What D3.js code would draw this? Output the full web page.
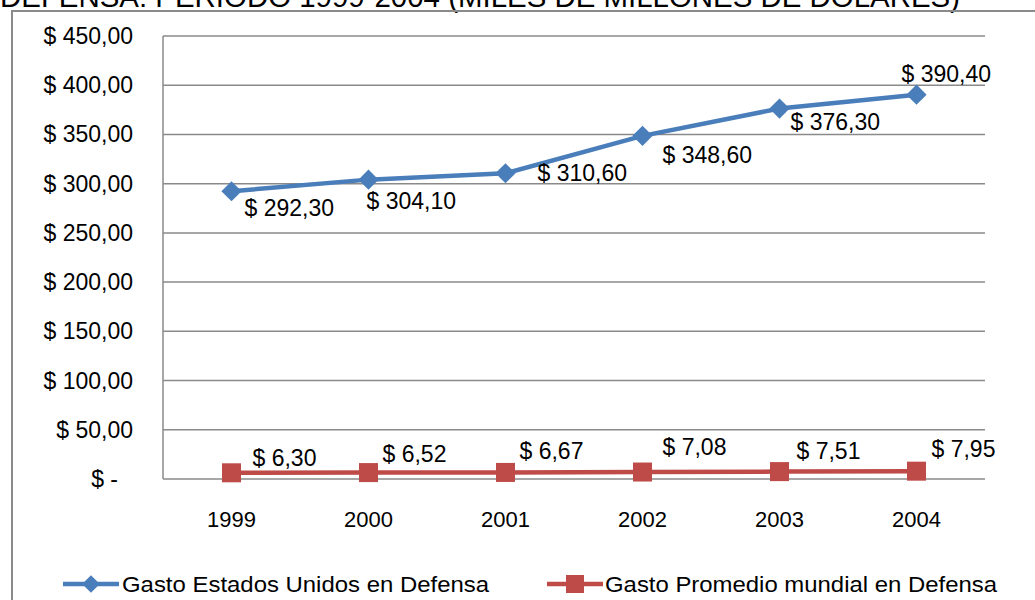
<!DOCTYPE html>
<html>
<head>
<meta charset="utf-8">
<script src="https://cdn.jsdelivr.net/npm/d3@7"></script>
<style>
  body { margin: 0; background: #fff; }
  svg { display: block; font-family: "Liberation Sans", Arial, sans-serif; }
</style>
</head>
<body>
<div id="chart"></div>
<script>
// data
let years = ['1999', '2000', '2001', '2002', '2003', '2004'];
let usaSpend = [292.30, 304.10, 310.60, 348.60, 376.30, 390.40];
let worldSpend = [6.30, 6.52, 6.67, 7.08, 7.51, 7.95];
let yTicks = [0, 50, 100, 150, 200, 250, 300, 350, 400, 450];
let seriesNames = ['Gasto Estados Unidos en Defensa', 'Gasto Promedio mundial en Defensa'];

// label nudges (px) to sit where excel put them
let usaLabelShift = [[13, 17], [-2, 21], [32, 0], [20, 19], [11, 13], [-15, -21]];
let worldLabelShift = [[21, -15], [14, -19], [14, -21], [20, -25], [17, -21], [15, -22]];

let width = 1035, height = 600;
let blue = '#4a7ebb', red = '#be4b48', grid = '#8a8a8a';

let svg = d3.select('#chart').append('svg')
  .attr('width', width).attr('height', height);

// title, mostly cut off by the crop
svg.append('text')
  .attr('x', 0).attr('y', 7)
  .attr('font-size', 29)
  .attr('textLength', 960).attr('lengthAdjust', 'spacingAndGlyphs')
  .text('DEFENSA: PERIODO 1999-2004 (MILES DE MILLONES DE DOLARES)');

// outer chart border
svg.append('path')
  .attr('d', 'M12,' + (height + 5) + 'V11H' + (width + 5))
  .attr('fill', 'none').attr('stroke', grid).attr('stroke-width', 2);

let x = d3.scaleBand().domain(years).range([163, 985]);
let y = d3.scaleLinear().domain([0, 450]).range([479, 36]);
let cx = d => x(d) + x.bandwidth() / 2;

let fmt = v => {
  if (v === 0) return '$ -';
  return '$ ' + v.toFixed(2).replace('.', ',');
};

// grid lines
svg.append('g').selectAll('line').data(yTicks).join('line')
  .attr('x1', 163).attr('x2', 985)
  .attr('y1', d => y(d)).attr('y2', d => y(d))
  .attr('stroke', grid).attr('stroke-width', 1.5);

svg.append('line')
  .attr('x1', 163).attr('x2', 163).attr('y1', y(450)).attr('y2', y(0))
  .attr('stroke', grid).attr('stroke-width', 1.5);

// y labels
svg.append('g').selectAll('text').data(yTicks).join('text')
  .attr('x', d => d === 0 ? 118 : 133)
  .attr('y', d => y(d) + 8)
  .attr('text-anchor', 'end')
  .attr('font-size', 23)
  .text(fmt);

// x labels
svg.append('g').selectAll('text').data(years).join('text')
  .attr('x', d => cx(d))
  .attr('y', 527)
  .attr('text-anchor', 'middle')
  .attr('font-size', 22)
  .text(d => d);

let line = vals => d3.line()
  .x((d, i) => cx(years[i]))
  .y(d => y(d))(vals);

// world series
svg.append('path').attr('d', line(worldSpend))
  .attr('fill', 'none').attr('stroke', red).attr('stroke-width', 4.5);
svg.append('g').selectAll('rect').data(worldSpend).join('rect')
  .attr('x', (d, i) => cx(years[i]) - 9.5)
  .attr('y', d => y(d) - 9.5)
  .attr('width', 19).attr('height', 19)
  .attr('fill', red);

// usa series
svg.append('path').attr('d', line(usaSpend))
  .attr('fill', 'none').attr('stroke', blue).attr('stroke-width', 4.5);
svg.append('g').selectAll('path').data(usaSpend).join('path')
  .attr('d', d3.symbol(d3.symbolDiamond2, 260))
  .attr('transform', (d, i) => `translate(${cx(years[i])},${y(d)})`)
  .attr('fill', blue);

// data labels
svg.append('g').selectAll('text').data(usaSpend).join('text')
  .attr('x', (d, i) => cx(years[i]) + usaLabelShift[i][0])
  .attr('y', (d, i) => y(d) + usaLabelShift[i][1] + 8)
  .attr('font-size', 23)
  .text(fmt);

svg.append('g').selectAll('text').data(worldSpend).join('text')
  .attr('x', (d, i) => cx(years[i]) + worldLabelShift[i][0])
  .attr('y', (d, i) => y(d) + worldLabelShift[i][1] + 8)
  .attr('font-size', 23)
  .text(fmt);

// legend
let legend = svg.append('g');
legend.append('line').attr('x1', 63).attr('x2', 119).attr('y1', 584).attr('y2', 584)
  .attr('stroke', blue).attr('stroke-width', 4.5);
legend.append('path')
  .attr('d', d3.symbol(d3.symbolDiamond2, 200))
  .attr('transform', 'translate(91,584)')
  .attr('fill', blue);
legend.append('text').attr('x', 122).attr('y', 592).attr('font-size', 22)
  .attr('textLength', 367).attr('lengthAdjust', 'spacingAndGlyphs')
  .text(seriesNames[0]);

legend.append('line').attr('x1', 547).attr('x2', 603).attr('y1', 584).attr('y2', 584)
  .attr('stroke', red).attr('stroke-width', 4.5);
legend.append('rect').attr('x', 566).attr('y', 575).attr('width', 18).attr('height', 18)
  .attr('fill', red);
legend.append('text').attr('x', 605).attr('y', 592).attr('font-size', 22)
  .attr('textLength', 392).attr('lengthAdjust', 'spacingAndGlyphs')
  .text(seriesNames[1]);
</script>
</body>
</html>
